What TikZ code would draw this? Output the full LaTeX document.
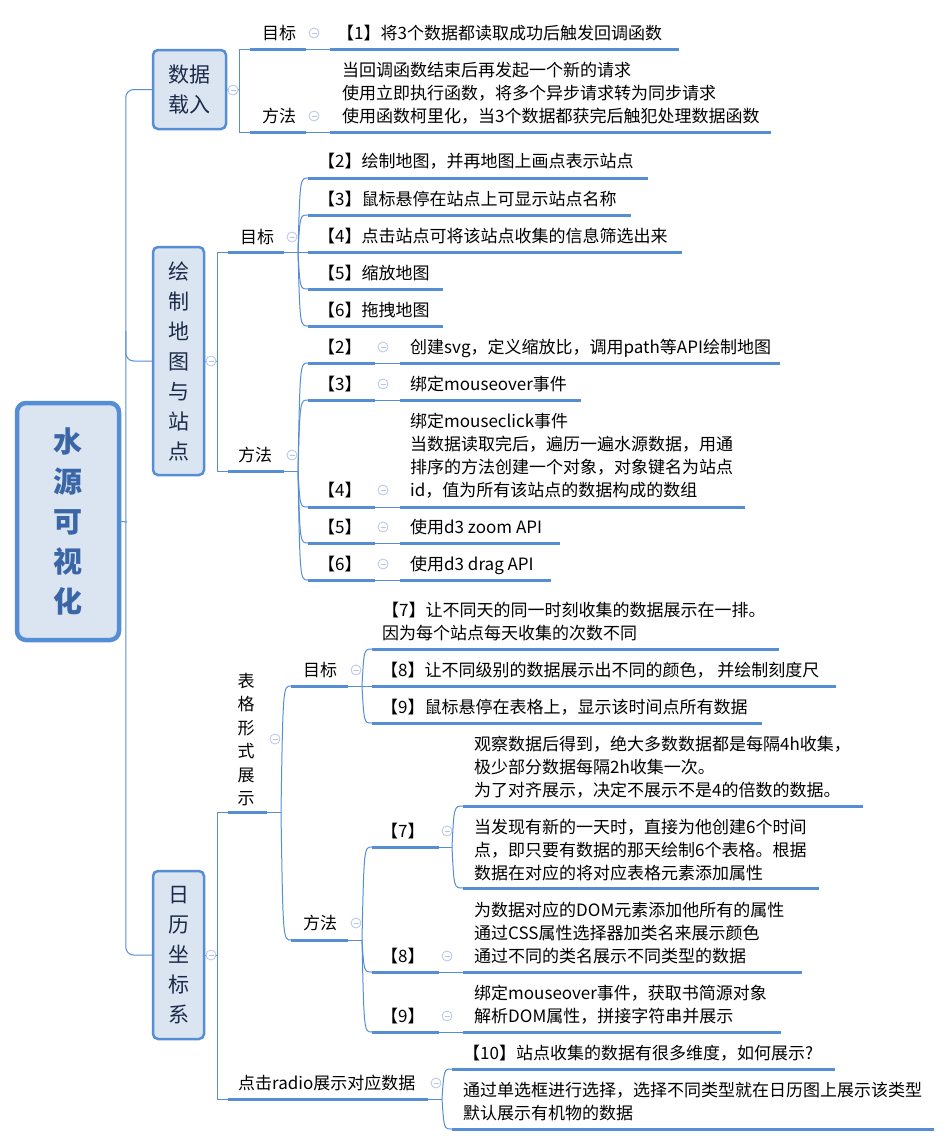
\documentclass[tikz,border=0pt]{standalone}
\usepackage{fontspec}
\setmainfont{Noto Sans CJK SC}
\usetikzlibrary{calc}
\definecolor{lineblue}{HTML}{558ED5}
\definecolor{boxfill}{HTML}{DBE5F1}
\definecolor{icongray}{HTML}{B4C6E7}
\definecolor{roottext}{HTML}{3A66A8}
\definecolor{ltext}{HTML}{1B2A48}
\newcommand\mmuline[4]{\coordinate (#1-a) at (#2,#4);\coordinate (#1-b) at (#3,#4);\draw[under] (#1-a) -- (#1-b);}
\newcommand\mmcurve[2]{\draw[link] (#1) .. controls ($(#1 |- #2)+(2,0)$) .. (#2);}
\begin{document}
\begin{tikzpicture}[x=1pt,y=-1pt,
 under/.style={draw=lineblue,line width=3pt},
 link/.style={draw=lineblue,line width=1pt},
 txt/.style={inner sep=0pt,anchor=west,align=left,font=\fontsize{17}{23}\selectfont,text height=15pt,text depth=2pt},
 lonebox/.style={draw=lineblue,fill=boxfill,line width=2.5pt,rounded corners=5pt,font=\fontsize{21}{30}\selectfont,text=ltext,align=center,inner sep=0pt},
 iconnode/.style={circle,draw=icongray,fill=white,line width=0.8pt,minimum size=10pt,inner sep=0pt,
   path picture={\draw[icongray,line width=0.8pt] ([xshift=-2.5pt]path picture bounding box.center)--([xshift=2.5pt]path picture bounding box.center);}}
]
\fill[white] (0,0) rectangle (952,1146);
\useasboundingbox (0,0) rectangle (952,1146);

% ---------- root ----------
\node[draw=lineblue,line width=4.5pt,fill=boxfill,rounded corners=9pt,minimum width=102pt,minimum height=237pt,
  font=\fontsize{29}{40}\selectfont\bfseries,text=roottext,align=center,inner sep=0pt] (root) at (68,521.5) {水\\源\\可\\视\\化};

% ---------- level 1 boxes ----------
\node[lonebox,minimum width=73pt,minimum height=79pt] (d1) at (189.5,89.5) {数据\\载入};
\node[lonebox,minimum width=51pt,minimum height=228pt] (d2) at (178.5,361) {绘\\制\\地\\图\\与\\站\\点};
\node[lonebox,minimum width=51pt,minimum height=168pt] (d3) at (178.5,955) {日\\历\\坐\\标\\系};

% trunk
\coordinate (rootj) at (127,522);
\draw[link,rounded corners=8pt] (d1.west) -| ($(d3.west)+(-26,0)$) -- (d3.west);
\draw[link,rounded corners=8pt] ($(d2.west)+(-26,-30)$) |- (d2.west);
\draw[link] (root.east) -- (rootj);

% ================= 数据载入 =================
\coordinate (d1j) at (239,90);
\draw[link] (d1.east) -- (d1j);
\mmuline{d1g}{250}{306}{49}
\mmuline{d1m}{250}{306}{132}
\draw[link] (d1g-a) -- ++(-11,0) |- (d1m-a);
\node[txt] (d1gt) at (262,33) {目标};
\node[txt] (d1mt) at (262,116) {方法};
\mmuline{d1c1}{330}{679}{49}
\mmuline{d1c2}{330}{771}{132}
\draw[link] (d1g-b) -- (d1c1-a);
\draw[link] (d1m-b) -- (d1c2-a);
\node[txt] (d1c1t) at (337,33) {【1】将3个数据都读取成功后触发回调函数};
\node[txt] (d1c2t) at (342,116) {当回调函数结束后再发起一个新的请求\\使用立即执行函数，将多个异步请求转为同步请求\\使用函数柯里化，当3个数据都获完后触犯处理数据函数};

% ================= 绘制地图与站点 =================
\coordinate (d2j) at (217,361);
\draw[link] (d2.east) -- (d2j);
\mmuline{d2g}{228}{284}{252}
\mmuline{d2m}{228}{284}{471}
\draw[link] (d2g-a) -- ++(-11,0) |- (d2m-a);
\node[txt] (d2gt) at (240,237) {目标};
\node[txt] (d2mt) at (238,455) {方法};
% 目标 children
\coordinate (d2gj) at (298,252);
\draw[link] (d2g-b) -- (d2gj);
\mmuline{d2g2}{308}{648}{178}
\mmuline{d2g3}{308}{631}{215}
\mmuline{d2g4}{308}{682}{252}
\mmuline{d2g5}{308}{443}{289}
\mmuline{d2g6}{308}{443}{326}
\mmcurve{d2gj}{d2g2-a}
\mmcurve{d2gj}{d2g3-a}
\draw[link] (d2gj) -- (d2g4-a);
\mmcurve{d2gj}{d2g5-a}
\mmcurve{d2gj}{d2g6-a}
\node[txt] (d2g2t) at (318,161) {【2】绘制地图，并再地图上画点表示站点};
\node[txt] (d2g3t) at (318,199) {【3】鼠标悬停在站点上可显示站点名称};
\node[txt] (d2g4t) at (318,236) {【4】点击站点可将该站点收集的信息筛选出来};
\node[txt] (d2g5t) at (318,273) {【5】缩放地图};
\node[txt] (d2g6t) at (318,310) {【6】拖拽地图};
% 方法 children
\coordinate (d2mj) at (298,471);
\draw[link] (d2m-b) -- (d2mj);
\mmuline{d2m2}{308}{375}{363}
\mmuline{d2m3}{308}{375}{400}
\mmuline{d2m4}{308}{375}{507}
\mmuline{d2m5}{308}{375}{543}
\mmuline{d2m6}{308}{375}{580}
\mmuline{d2m2x}{400}{780}{363}
\mmuline{d2m3x}{400}{581}{400}
\mmuline{d2m4x}{400}{745}{507}
\mmuline{d2m5x}{400}{560}{543}
\mmuline{d2m6x}{400}{551}{580}
\foreach \k in {2,...,6}{
  \mmcurve{d2mj}{d2m\k-a}
  \draw[link] (d2m\k-b) -- (d2m\k x-a);
}
\node[txt] (d2m2l) at (318,347) {【2】};
\node[txt] (d2m3l) at (318,384) {【3】};
\node[txt] (d2m4l) at (318,490) {【4】};
\node[txt] (d2m5l) at (318,527) {【5】};
\node[txt] (d2m6l) at (318,564) {【6】};
\node[txt] (d2m2t) at (410,347) {创建svg，定义缩放比，调用path等API绘制地图};
\node[txt] (d2m3t) at (410,384) {绑定mouseover事件};
\node[txt] (d2m4t) at (410,490) {绑定mouseclick事件\\当数据读取完后，遍历一遍水源数据，用通\\排序的方法创建一个对象，对象键名为站点\\id，值为所有该站点的数据构成的数组};
\node[txt] (d2m5t) at (410,527) {使用d3 zoom API};
\node[txt] (d2m6t) at (410,564) {使用d3 drag API};

% ================= 日历坐标系 =================
\coordinate (d3j) at (217,955);
\draw[link] (d3.east) -- (d3j);
\mmuline{d3t}{228}{267}{812}
\mmuline{d3r}{228}{428}{1099}
\draw[link] (d3t-a) -- ++(-11,0) |- (d3r-a);
\node[txt,anchor=center,align=center,font=\fontsize{17}{23.4}\selectfont] (d3tt) at (246,798) {表\\格\\形\\式\\展\\示};
\coordinate (d3tj) at (281,812);
\draw[link] (d3t-b) -- (d3tj);
\mmuline{d3g}{291}{348}{686}
\mmuline{d3m}{291}{348}{940}
\mmcurve{d3tj}{d3g-a}
\mmcurve{d3tj}{d3m-a}
\node[txt] (d3gt) at (303,670) {目标};
\node[txt] (d3mt) at (303,923) {方法};
% 目标
\coordinate (d3gj) at (362,686);
\draw[link] (d3g-b) -- (d3gj);
\mmuline{d3g7}{372}{779}{649}
\mmuline{d3g8}{372}{836}{686}
\mmuline{d3g9}{372}{762}{723}
\mmcurve{d3gj}{d3g7-a}
\draw[link] (d3gj) -- (d3g8-a);
\mmcurve{d3gj}{d3g9-a}
\node[txt] (d3g7t) at (382,633) {【7】让不同天的同一时刻收集的数据展示在一排。\\因为每个站点每天收集的次数不同};
\node[txt] (d3g8t) at (381,670) {【8】让不同级别的数据展示出不同的颜色， 并绘制刻度尺};
\node[txt] (d3g9t) at (381,707) {【9】鼠标悬停在表格上，显示该时间点所有数据};
% 方法
\coordinate (d3mj) at (362,940);
\draw[link] (d3m-b) -- (d3mj);
\mmuline{d3m7}{372}{439}{847}
\mmuline{d3m8}{372}{439}{972}
\mmuline{d3m9}{372}{439}{1032}
\mmcurve{d3mj}{d3m7-a}
\mmcurve{d3mj}{d3m8-a}
\mmcurve{d3mj}{d3m9-a}
\node[txt] (d3m7l) at (381,831) {【7】};
\node[txt] (d3m8l) at (381,956) {【8】};
\node[txt] (d3m9l) at (381,1016) {【9】};
\coordinate (d3m7j) at (452,847);
\draw[link] (d3m7-b) -- (d3m7j);
\mmuline{d3m7a}{463}{863}{806}
\mmuline{d3m7b}{463}{819}{888}
\mmcurve{d3m7j}{d3m7a-a}
\mmcurve{d3m7j}{d3m7b-a}
\node[txt] (d3m7at) at (474,790) {观察数据后得到，绝大多数数据都是每隔4h收集，\\极少部分数据每隔2h收集一次。\\为了对齐展示，决定不展示不是4的倍数的数据。};
\node[txt] (d3m7bt) at (474,873) {当发现有新的一天时，直接为他创建6个时间\\点，即只要有数据的那天绘制6个表格。根据\\数据在对应的将对应表格元素添加属性};
\mmuline{d3m8x}{463}{802}{972}
\draw[link] (d3m8-b) -- (d3m8x-a);
\node[txt] (d3m8t) at (474,956) {为数据对应的DOM元素添加他所有的属性\\通过CSS属性选择器加类名来展示颜色\\通过不同的类名展示不同类型的数据};
\mmuline{d3m9x}{463}{781}{1032}
\draw[link] (d3m9-b) -- (d3m9x-a);
\node[txt] (d3m9t) at (474,1016) {绑定mouseover事件，获取书简源对象\\解析DOM属性，拼接字符串并展示};
% radio
\node[txt] (d3rt) at (238,1083) {点击radio展示对应数据};
\coordinate (d3rj) at (442,1099);
\draw[link] (d3r-b) -- (d3rj);
\mmuline{d3r1}{452}{835}{1069}
\mmuline{d3r2}{452}{934}{1129}
\mmcurve{d3rj}{d3r1-a}
\mmcurve{d3rj}{d3r2-a}
\node[txt] (d3r1t) at (463,1053) {【10】站点收集的数据有很多维度，如何展示?};
\node[txt] (d3r2t) at (463,1113) {通过单选框进行选择，选择不同类型就在日历图上展示该类型\\默认展示有机物的数据};

% ---------- collapse icons ----------
\foreach \n/\x/\y in {i1/233/90, i2/211/361, i3/211/955,
  i4/314/33, i5/314/116, i6/292/237, i7/292/455,
  i8/383/347, i9/383/384, i10/383/490, i11/383/527, i12/383/564,
  i13/275/739, i14/356/670, i15/356/923,
  i16/447/831, i17/447/956, i18/447/1016, i19/436/1083}{
  \node[iconnode] (\n) at (\x,\y) {};
}
\end{tikzpicture}
\end{document}
